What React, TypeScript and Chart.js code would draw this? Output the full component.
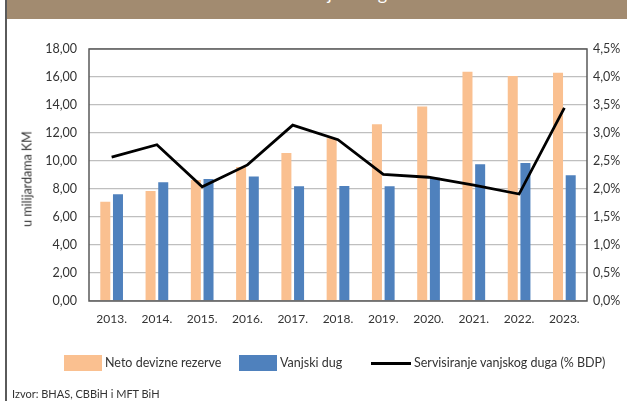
import React, { useEffect, useRef } from 'react';
import { Chart, registerables } from 'chart.js';

Chart.register(...registerables);

const categories = ['2013.', '2014.', '2015.', '2016.', '2017.', '2018.', '2019.', '2020.', '2021.', '2022.', '2023.'];
const netoDevizneRezerve = [7.09, 7.85, 8.64, 9.57, 10.57, 11.63, 12.63, 13.89, 16.37, 16.08, 16.3];
const vanjskiDug = [7.62, 8.48, 8.71, 8.9, 8.19, 8.21, 8.19, 8.8, 9.76, 9.86, 8.98];
const servisiranjeDuga = [2.57, 2.79, 2.04, 2.43, 3.14, 2.88, 2.26, 2.21, 2.07, 1.91, 3.45];
const leftTickLabels = ['0,00', '2,00', '4,00', '6,00', '8,00', '10,00', '12,00', '14,00', '16,00', '18,00'];
const rightTickLabels = ['0,0%', '0,5%', '1,0%', '1,5%', '2,0%', '2,5%', '3,0%', '3,5%', '4,0%', '4,5%'];

const seriesNames = ['Neto devizne rezerve', 'Vanjski dug', 'Servisiranje vanjskog duga (% BDP)'];
const ORANGE = '#FAC090';
const BLUE = '#4F81BD';
const TEXT = '#333333';

const frame = {
  id: 'frame',
  afterDraw(chart: any) {
    const { ctx, chartArea } = chart;
    ctx.save();
    ctx.strokeStyle = '#595959';
    ctx.lineWidth = 1.5;
    ctx.strokeRect(chartArea.left, chartArea.top, chartArea.right - chartArea.left, chartArea.bottom - chartArea.top);
    ctx.restore();
  },
};

export default function App() {
  const ref = useRef<HTMLCanvasElement>(null);

  useEffect(() => {
    document.body.style.margin = '0';
    const chart = new Chart(ref.current as HTMLCanvasElement, {
      type: 'bar',
      data: {
        labels: categories,
        datasets: [
          {
            type: 'line',
            label: seriesNames[2],
            data: servisiranjeDuga,
            yAxisID: 'y1',
            borderColor: '#000000',
            backgroundColor: '#000000',
            borderWidth: 2.8,
            pointRadius: 0,
            tension: 0,
            order: 0,
          } as any,
          {
            type: 'bar',
            label: seriesNames[0],
            data: netoDevizneRezerve,
            yAxisID: 'y',
            backgroundColor: ORANGE,
            borderWidth: 0,
            categoryPercentage: 0.56,
            barPercentage: 0.79,
            order: 1,
          },
          {
            type: 'bar',
            label: seriesNames[1],
            data: vanjskiDug,
            yAxisID: 'y',
            backgroundColor: BLUE,
            borderWidth: 0,
            categoryPercentage: 0.56,
            barPercentage: 0.79,
            order: 2,
          },
        ],
      },
      options: {
        responsive: false,
        animation: false,
        layout: { padding: { top: 49, left: 0, right: 0, bottom: 0 } },
        plugins: { legend: { display: false }, tooltip: { enabled: false }, title: { display: false } },
        scales: {
          x: {
            grid: { display: false, drawTicks: false },
            border: { display: false },
            ticks: { color: TEXT, font: { family: 'Lato', size: 12 }, padding: 11, maxRotation: 0 },
            afterFit: (s: any) => { s.height = 100; },
          },
          y: {
            position: 'left',
            min: 0,
            max: 18,
            grid: { color: '#BFBFBF', lineWidth: 1.3, drawTicks: false },
            border: { display: false },
            ticks: {
              stepSize: 2,
              color: TEXT,
              font: { family: 'Lato', size: 12.5 },
              padding: 12,
              callback: (_v: any, i: number) => leftTickLabels[i],
            },
            afterFit: (s: any) => { s.width = 89; },
          },
          y1: {
            position: 'right',
            min: 0,
            max: 4.5,
            grid: { display: false, drawTicks: false },
            border: { display: false },
            ticks: {
              stepSize: 0.5,
              color: TEXT,
              font: { family: 'Lato', size: 12.5 },
              padding: 6,
              callback: (_v: any, i: number) => rightTickLabels[i],
            },
            afterFit: (s: any) => { s.width = 40; },
          },
        },
      },
      plugins: [frame],
    });
    return () => chart.destroy();
  }, []);

  const legendText: React.CSSProperties = {
    position: 'absolute',
    top: 354,
    fontSize: 12.5,
    lineHeight: '18px',
    color: TEXT,
    whiteSpace: 'nowrap',
  };

  return (
    <div style={{ position: 'fixed', left: 0, top: 0, width: 627, height: 401, background: '#fff', overflow: 'hidden', fontFamily: 'Lato, sans-serif' }}>
      <div style={{ position: 'absolute', left: 5, top: 0, width: 1.6, height: 401, background: '#5a5a5a' }} />
      <div style={{ position: 'absolute', left: 7, top: 0, width: 620, height: 19, background: '#A28B70', overflow: 'hidden' }}>
        <div style={{ position: 'absolute', left: 20, top: -20, color: '#fff', fontSize: 18, fontWeight: 'normal', whiteSpace: 'nowrap', lineHeight: '26px' }}>
          Grafikon 5: Neto devizne rezerve i vanjski dug
        </div>
      </div>
      <canvas ref={ref} width={627} height={401} style={{ position: 'absolute', left: 0, top: 0, width: 627, height: 401 }} />
      <div style={{ position: 'absolute', left: 27, top: 179, transform: 'translate(-50%, -50%) rotate(-90deg)', fontSize: 12.5, color: TEXT, whiteSpace: 'nowrap' }}>
        u milijardama KM
      </div>
      <div style={{ position: 'absolute', left: 64, top: 355, width: 38, height: 16, background: ORANGE }} />
      <div style={{ ...legendText, left: 105 }}>{seriesNames[0]}</div>
      <div style={{ position: 'absolute', left: 239, top: 355, width: 38, height: 16, background: BLUE }} />
      <div style={{ ...legendText, left: 280 }}>{seriesNames[1]}</div>
      <div style={{ position: 'absolute', left: 371, top: 362, width: 40, height: 3, background: '#000' }} />
      <div style={{ ...legendText, left: 414 }}>{seriesNames[2]}</div>
      <div style={{ position: 'absolute', left: 12, top: 387, fontSize: 11, lineHeight: '14px', color: TEXT, whiteSpace: 'nowrap' }}>
        Izvor: BHAS, CBBiH i MFT BiH
      </div>
    </div>
  );
}
